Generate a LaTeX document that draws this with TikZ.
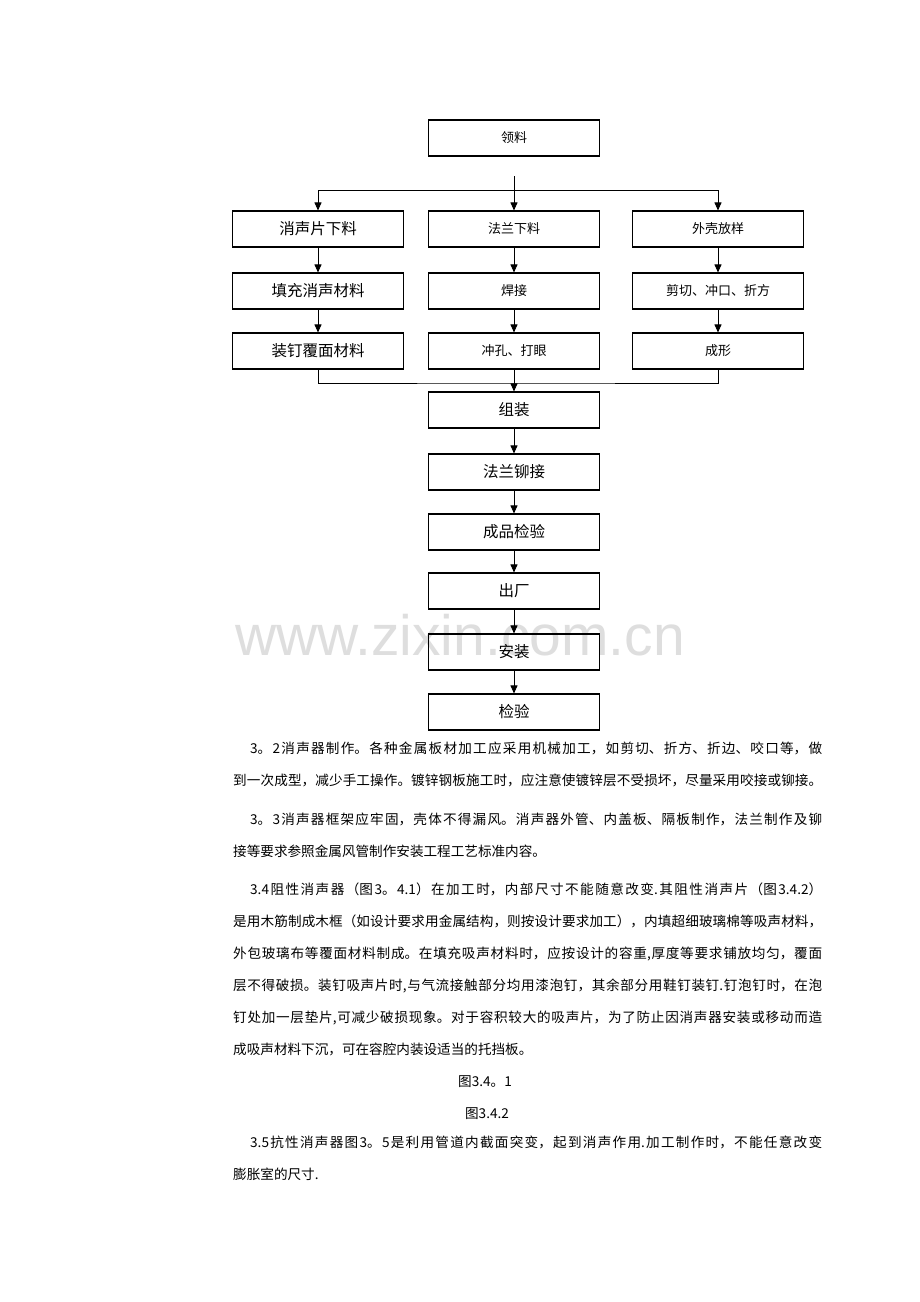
\documentclass[tikz,border=0pt]{standalone}
\usepackage{fontspec}
\usepackage{tikz}
\usetikzlibrary{arrows.meta}
\setmainfont{Noto Sans CJK SC}
\newfontfamily\wmfont{Liberation Sans}
\XeTeXlinebreaklocale "zh"
\XeTeXlinebreakskip=0pt plus 3pt minus 0.3pt
\newcommand{\jz}[2]{\parbox[b]{#1}{\parfillskip=0pt\relax #2}}

\begin{document}
\begin{tikzpicture}[x=1pt,y=-1pt,
  box/.style={draw,line width=1.1pt,minimum width=171pt,minimum height=36pt,inner sep=0pt},
  sm/.style={box,font=\fontsize{13}{15}\selectfont},
  lg/.style={box,font=\fontsize{15.5}{18}\selectfont},
  txt/.style={anchor=base west,inner sep=0pt,font=\fontsize{13.6}{16}\selectfont},
  arr/.style={-{Triangle[length=8pt,width=7pt]},line width=0.9pt}]
        \fill[white] (0,0) rectangle (920,1302);
        \useasboundingbox (0,0) rectangle (920,1302);
        \node[anchor=base,text=black!13,font=\wmfont\fontsize{57}{60}\selectfont] (WM) at (460,655) {www.zixin.com.cn};
        \node[sm] (LL) at (514,138) {领料};
        \node[lg] (XP) at (318,229) {消声片下料};
        \node[sm] (FX) at (514,229) {法兰下料};
        \node[sm] (WK) at (718,229) {外壳放样};
        \node[lg] (TC) at (318,291) {填充消声材料};
        \node[sm] (HJ) at (514,291) {焊接};
        \node[sm] (JQ) at (718,291) {剪切、冲口、折方};
        \node[lg] (ZD) at (318,351) {装钉覆面材料};
        \node[sm] (CK) at (514,351) {冲孔、打眼};
        \node[sm] (CX) at (718,351) {成形};
        \node[lg] (ZZ) at (514,410) {组装};
        \node[lg] (FM) at (514,472) {法兰铆接};
        \node[lg] (CJ) at (514,532) {成品检验};
        \node[lg] (CC) at (514,591) {出厂};
        \node[lg] (AZ) at (514,652) {安装};
        \node[lg] (JY) at (514,712) {检验};
        \coordinate (fork) at (514,176);
        \coordinate (bar) at (514,190);
        \coordinate (join) at (514,383);
        \draw [arr] (fork) -- (FX);
        \draw [arr] (bar) -| (XP);
        \draw [arr] (bar) -| (WK);
        \draw [arr] (XP) -- (TC);
        \draw [arr] (TC) -- (ZD);
        \draw [arr] (FX) -- (HJ);
        \draw [arr] (HJ) -- (CK);
        \draw [arr] (WK) -- (JQ);
        \draw [arr] (JQ) -- (CX);
        \draw [line width=0.9pt] (ZD) |- (join) -| (CX);
        \draw [arr] (CK) -- (ZZ);
        \draw [arr] (ZZ) -- (FM);
        \draw [arr] (FM) -- (CJ);
        \draw [arr] (CJ) -- (CC);
        \draw [arr] (CC) -- (AZ);
        \draw [arr] (AZ) -- (JY);
        \node[txt] (P1a) at (250,753) {\jz{572pt}{3。2消声器制作。各种金属板材加工应采用机械加工，如剪切、折方、折边、咬口等，做}};
        \node[txt] (P1b) at (233,785) {\jz{589pt}{到一次成型，减少手工操作。镀锌钢板施工时，应注意使镀锌层不受损坏，尽量采用咬接或铆接。}};
        \node[txt] (P2a) at (250,824) {\jz{572pt}{3。3消声器框架应牢固，壳体不得漏风。消声器外管、内盖板、隔板制作，法兰制作及铆}};
        \node[txt] (P2b) at (233,856) {接等要求参照金属风管制作安装工程工艺标准内容。};
        \node[txt] (P3a) at (250,894) {\jz{572pt}{3.4阻性消声器（图3。4.1）在加工时，内部尺寸不能随意改变.其阻性消声片（图3.4.2）}};
        \node[txt] (P3b) at (233,926) {\jz{589pt}{是用木筋制成木框（如设计要求用金属结构，则按设计要求加工），内填超细玻璃棉等吸声材料，}};
        \node[txt] (P3c) at (233,958) {\jz{589pt}{外包玻璃布等覆面材料制成。在填充吸声材料时，应按设计的容重,厚度等要求铺放均匀，覆面}};
        \node[txt] (P3d) at (233,990) {\jz{589pt}{层不得破损。装钉吸声片时,与气流接触部分均用漆泡钉，其余部分用鞋钉装钉.钉泡钉时，在泡}};
        \node[txt] (P3e) at (233,1022) {\jz{589pt}{钉处加一层垫片,可减少破损现象。对于容积较大的吸声片，为了防止因消声器安装或移动而造}};
        \node[txt] (P3f) at (233,1054) {成吸声材料下沉，可在容腔内装设适当的托挡板。};
        \node[anchor=base,font=\fontsize{13.6}{16}\selectfont] (F1) at (485,1086) {图3.4。1};
        \node[anchor=base,font=\fontsize{13.6}{16}\selectfont] (F2) at (487,1118) {图3.4.2};
        \node[txt] (P4a) at (250,1147) {\jz{572pt}{3.5抗性消声器图3。5是利用管道内截面突变，起到消声作用.加工制作时，不能任意改变}};
        \node[txt] (P4b) at (233,1179) {膨胀室的尺寸.};
\end{tikzpicture}
\end{document}
